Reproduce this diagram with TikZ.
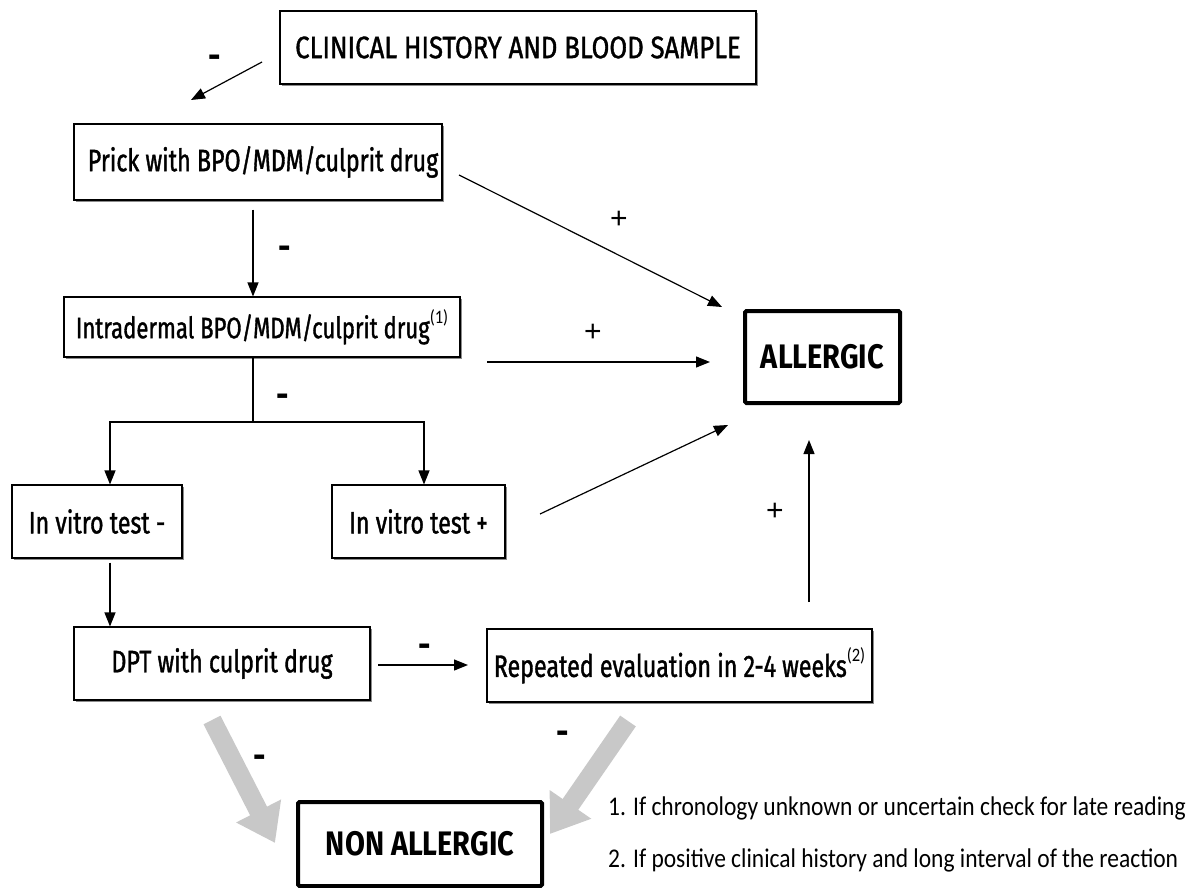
\documentclass[tikz,border=0pt]{standalone}
\usepackage{fontspec}
\usetikzlibrary{arrows.meta,shadows}
\newfontfamily\comic[FakeStretch=0.83,FakeBold=1.2]{Fira Sans}
\newfontfamily\comicL[FakeStretch=0.75,FakeBold=1.2]{Fira Sans}
\newfontfamily\comicbig[FakeStretch=0.85]{Fira Sans}
\newfontfamily\notefont[FakeStretch=0.87]{Carlito}
\newfontfamily\plusfont{Liberation Sans}
\definecolor{lg}{HTML}{C8C8C8}
\tikzset{
  box/.style={draw, line width=1.1pt, fill=white, inner sep=0pt, align=center,
    font=\comicL\fontsize{31}{35}\selectfont,
    drop shadow={shadow xshift=1.6pt, shadow yshift=-1.6pt, fill=black!45, opacity=1}},
  capsbox/.style={box, font=\comic\fontsize{31}{35}\selectfont},
  bigbox/.style={draw, line width=4pt, fill=white, inner sep=0pt, rounded corners=1.5pt,
    font=\comicbig\bfseries\fontsize{34}{38}\selectfont},
  arr/.style={line width=1.2pt, -{Triangle[length=14pt,width=11pt]}},
  garr/.style={draw=lg, line width=19pt, -{Triangle[length=36pt,width=48pt]}},
  minus/.style={font=\comicbig\bfseries\fontsize{36}{40}\selectfont, inner sep=0pt},
  plus/.style={font=\plusfont\fontsize{30}{34}\selectfont, inner sep=0pt},
  note/.style={font=\notefont\fontsize{27}{32}\selectfont, anchor=west, inner sep=0pt}
}
\newcommand{\supnote}[1]{\raisebox{0.5em}{\notefont\fontsize{19}{22}\selectfont(#1)}}
\begin{document}
\begin{tikzpicture}[x=1pt,y=-1pt]
\useasboundingbox (0,0) rectangle (1191,888);
% boxes
\node[capsbox, minimum width=476pt, minimum height=73pt] (clin) at (518,47.5) {CLINICAL HISTORY AND BLOOD SAMPLE};
\node[box, minimum width=368pt, minimum height=76pt] (prick) at (258,162) {\hspace*{10pt}Prick with BPO/MDM/culprit drug};
\node[box, minimum width=396pt, minimum height=60pt, font=\comicL\fontsize{29.5}{34}\selectfont] (intra) at (262,327) {Intradermal BPO/MDM/culprit drug\supnote{1}};
\node[box, minimum width=170pt, minimum height=73pt] (ivm) at (97,521.5) {In vitro test -};
\node[box, minimum width=173pt, minimum height=73pt] (ivp) at (418.5,521.5) {In vitro test +};
\node[box, minimum width=296pt, minimum height=73pt] (dpt) at (222,663.5) {DPT with culprit drug};
\node[box, minimum width=385pt, minimum height=73pt] (rep) at (679.5,665.5) {Repeated evaluation in 2-4 weeks\supnote{2}};
\node[bigbox, minimum width=155pt, minimum height=92pt] (all) at (822.5,357) {ALLERGIC};
\node[bigbox, minimum width=244pt, minimum height=84pt] (non) at (420,844) {NON ALLERGIC};
% connector end points
\coordinate (c1) at (262,62);   \coordinate (c2) at (191,100);
\coordinate (p1) at (459,175);  \coordinate (a1) at (722,307);
\coordinate (i1) at (487,362);  \coordinate (a2) at (710,362);
\coordinate (v1) at (540,514);  \coordinate (a3) at (728,425);
\coordinate (r1) at (809,602);  \coordinate (a4) at (809,440);
\coordinate (d1) at (378,665);  \coordinate (r2) at (468,665);
\coordinate (split) at (253,422);
\coordinate (g1) at (212,720);  \coordinate (n1) at (275,843);
\coordinate (g2) at (628,721);  \coordinate (n2) at (550,834);
% black connectors
\draw[arr] (c1) -- (c2);
\draw[arr] (p1) -- (a1);
\draw[arr] (prick.south -| split) ++(0,9) -- (intra.north -| split);
\draw[arr] (i1) -- (a2);
\draw[line width=1.2pt] (intra.south -| split) -- (split);
\draw[arr] (split) -| (ivm.north -| 110,0);
\draw[arr] (split) -| (ivp.north -| 424,0);
\draw[arr] (v1) -- (a3);
\draw[arr] (ivm.south -| 110,0) ++(0,4) -- (dpt.north -| 110,0);
\draw[arr] (d1) -- (r2);
\draw[arr] (r1) -- (a4);
% grey connectors
\draw[garr] (g1) -- (n1);
\draw[garr] (g2) -- (n2);
% signs
\node[minus] (m1) at (215,62) {-};
\node[plus]  (s1) at (619,220) {+};
\node[minus] (m2) at (285,253) {-};
\node[plus]  (s2) at (593,333) {+};
\node[minus] (m3) at (283,401) {-};
\node[plus]  (s3) at (775,512) {+};
\node[minus] (m4) at (425,651) {-};
\node[minus] (m5) at (260,762) {-};
\node[minus] (m6) at (563,738) {-};
% notes
\node[note] (n1t) at (608,808) {1. If chronology unknown or uncertain check for late reading};
\node[note] (n2t) at (608,860) {2. If positive clinical history and long interval of the reaction};
\end{tikzpicture}
\end{document}
